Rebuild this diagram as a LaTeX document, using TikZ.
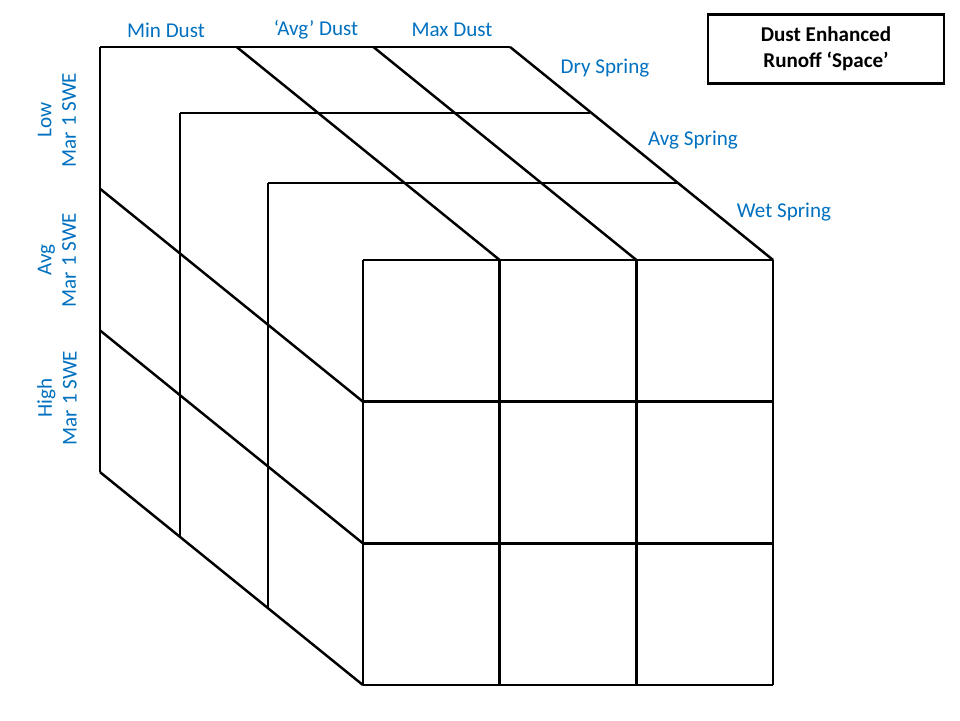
\documentclass[tikz,border=0pt]{standalone}
\usepackage{fontspec}
\setmainfont{Carlito}
\usetikzlibrary{positioning}
\definecolor{axisblue}{RGB}{0,112,192}

\tikzset{
  gridline/.style={black, line width=1.4pt},
  axislabel/.style={text=axisblue, font=\fontsize{12}{14}\selectfont, align=center},
  titlebox/.style={draw=black, line width=1.4pt, font=\bfseries\fontsize{12}{15}\selectfont,
    align=center, minimum width=4.72cm, minimum height=1.38cm}
}

\begin{document}
\begin{tikzpicture}[x=0.02cm, y=-0.02cm]
\useasboundingbox (0,0) rectangle (960,720);
% layers from back to front
\foreach \lx/\ly in {100/47,180/113,268/183,363/260} {
  \draw[gridline] (\lx,\ly) -- ++(410,0);
  \draw[gridline] (\lx,\ly) -- ++(0,425);
}
% front face grid
\foreach \i in {1,2,3}
  \draw[gridline] ({363+136.7*\i},260) -- ++(0,425);
\foreach \j in {1,2,3}
  \draw[gridline] (363,{260+141.7*\j}) -- ++(410,0);
% depth lines
\foreach \i in {1,2,3}
  \draw[gridline] ({100+136.7*\i},47) -- ++(263,213);
\foreach \j in {1,2,3}
  \draw[gridline] (100,{47+141.7*\j}) -- ++(263,213);
% labels
\node[axislabel] (mindust) at (166,30) {Min Dust};
\node[axislabel] (avgdust) at (316,30) {‘Avg’ Dust};
\node[axislabel] (maxdust) at (452,30) {Max Dust};
\node[axislabel] (dry) at (605,68) {Dry Spring};
\node[axislabel] (avgspr) at (693,140) {Avg Spring};
\node[axislabel] (wet) at (784,212) {Wet Spring};
\node[axislabel, rotate=90] (lowswe) at (57,120) {Low\\Mar 1 SWE};
\node[axislabel, rotate=90] (avgswe) at (57,260) {Avg\\Mar 1 SWE};
\node[axislabel, rotate=90] (highswe) at (57,398) {High\\Mar 1 SWE};
\node[titlebox] (title) at (826,49) {Dust Enhanced\\Runoff ‘Space’};
\end{tikzpicture}
\end{document}
